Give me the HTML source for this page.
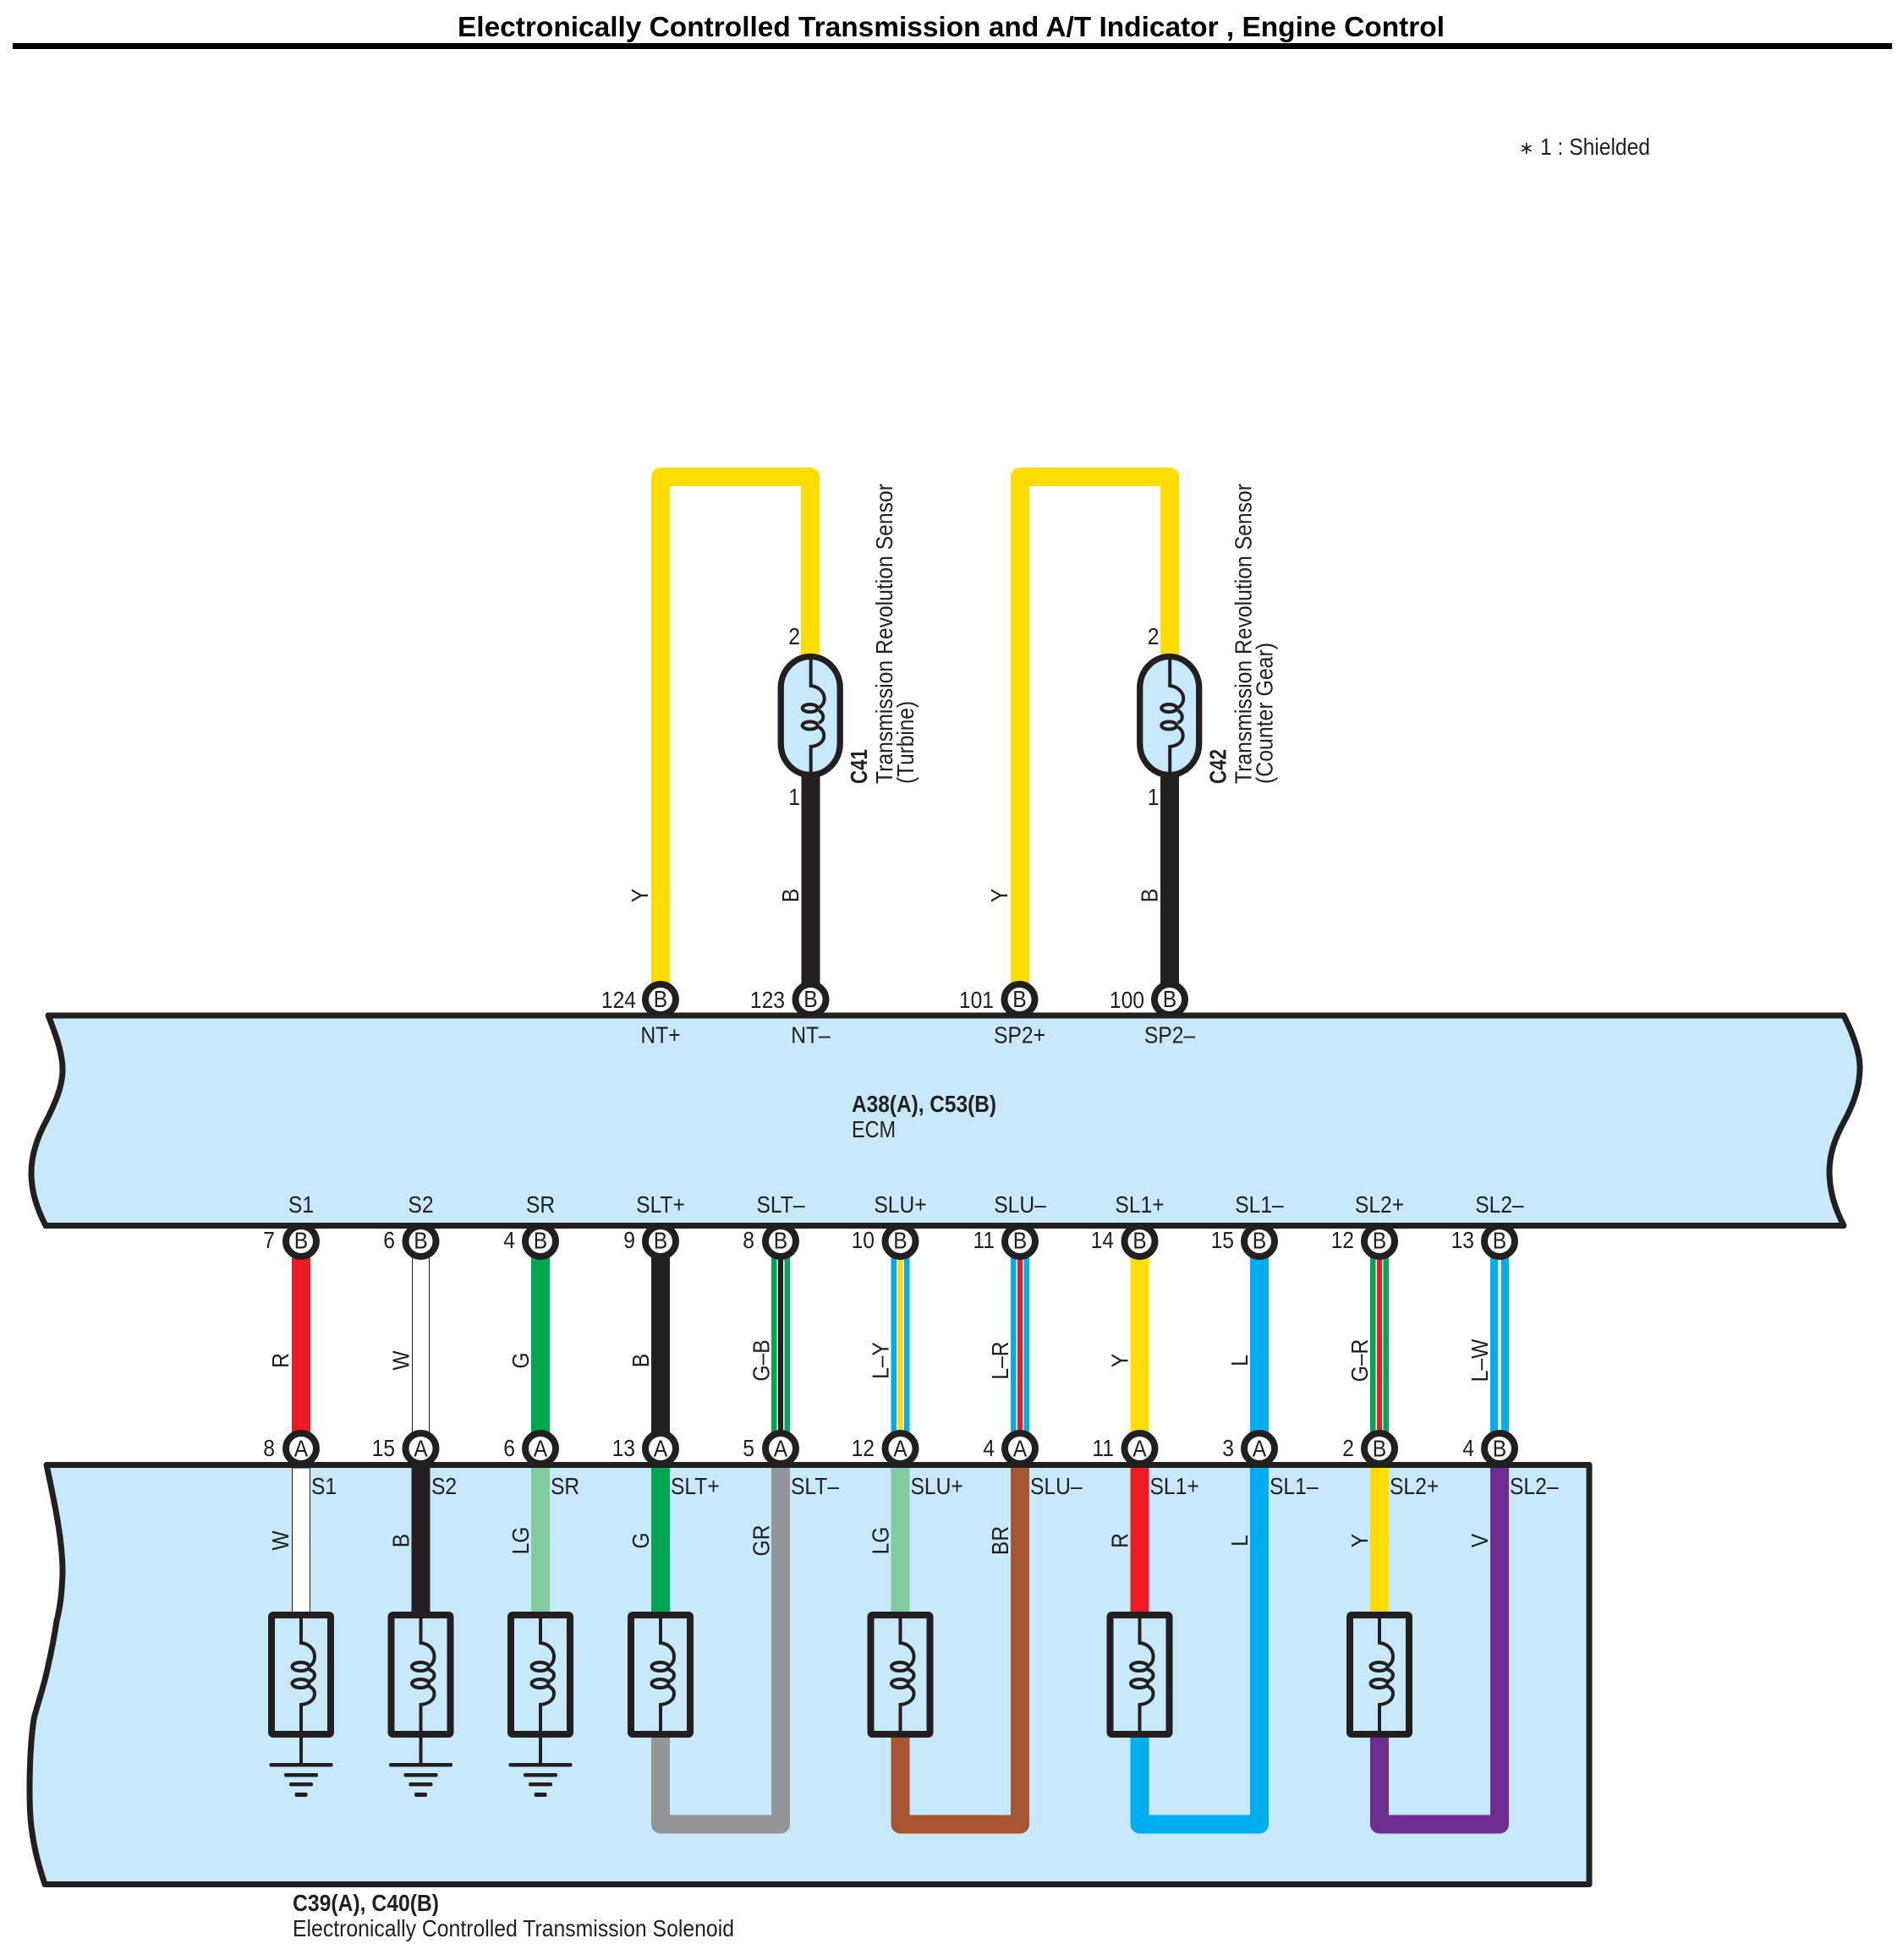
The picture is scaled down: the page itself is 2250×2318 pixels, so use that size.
<!DOCTYPE html>
<html lang="en">
<head>
<meta charset="utf-8">
<title>Electronically Controlled Transmission and A/T Indicator , Engine Control</title>
<style>
html,body{margin:0;padding:0;background:#fff;width:2250px;height:2318px;overflow:hidden}
svg{display:block}
text{font-family:"Liberation Sans",Arial,sans-serif;font-size:28px;fill:#231f20}
.m{text-anchor:middle}
.e{text-anchor:end}
.s{text-anchor:start}
.b{font-weight:bold}
</style>
</head>
<body>
<svg xmlns="http://www.w3.org/2000/svg" width="2250" height="2318" viewBox="0 0 2250 2318">
<defs>
<g id="sol">
<rect x="-35" y="1910" width="70" height="141" rx="2" fill="#c7e9fb" stroke="#231f20" stroke-width="8"/>
<path d="M0 1913V1943C10 1944 16 1951 16 1959C16 1965 13 1969 9 1971M9 1974C14 1976 16 1978 16 1981C16 1984 14 1987 9 1989M9 1994C14 1996 16 1999 16 2003C16 2010 10 2015 0 2016V2049" fill="none" stroke="#231f20" stroke-width="4"/>
<ellipse cx="-0.5" cy="1971" rx="10" ry="5" fill="none" stroke="#231f20" stroke-width="4"/>
<ellipse cx="-0.5" cy="1991" rx="10" ry="5" fill="none" stroke="#231f20" stroke-width="4"/>
</g>
<g id="gnd">
<path d="M0 2054V2087" stroke="#231f20" stroke-width="4" fill="none"/>
<rect x="-37.5" y="2085" width="75" height="4.5" rx="2" fill="#231f20"/>
<rect x="-20" y="2097" width="40" height="4.5" rx="2" fill="#231f20"/>
<rect x="-14" y="2108" width="28" height="4.5" rx="2" fill="#231f20"/>
<rect x="-7.5" y="2120" width="15" height="5" rx="2" fill="#231f20"/>
</g>
<g id="cap">
<rect x="-35" y="776.5" width="70" height="140" rx="35" ry="37" fill="#c7e9fb" stroke="#231f20" stroke-width="7.3"/>
<path d="M0.5 776V811C10 812 16.5 819 16.5 826C16.5 831 14 835 10 837M10 840C14 843 15 845 15 848C15 851 14 853 10 855M10 860C14 862 16 866 16 870C16 877 10 882 0.5 883V917" fill="none" stroke="#231f20" stroke-width="4"/>
<ellipse cx="-0.5" cy="837.5" rx="9" ry="4.5" fill="none" stroke="#231f20" stroke-width="4"/>
<ellipse cx="-0.5" cy="858" rx="9" ry="4.5" fill="none" stroke="#231f20" stroke-width="4"/>
</g>
<g id="pin">
<circle cx="0" cy="0" r="18" fill="#fff" stroke="#231f20" stroke-width="8"/>
</g>
</defs>

<!-- Title -->
<text class="b" x="541" y="43" style="font-size:33px;fill:#000" textLength="1167" lengthAdjust="spacingAndGlyphs">Electronically Controlled Transmission and A/T Indicator , Engine Control</text>
<rect x="15" y="51" width="2222" height="7" fill="#000"/>
<text x="1796" y="182" style="font-size:21px">∗</text>
<text x="1821" y="183" textLength="130" lengthAdjust="spacingAndGlyphs">1 : Shielded</text>

<!-- ECM -->
<path d="M57 1201C68 1228 74 1248 74 1265C74 1285 65 1305 55 1325C44 1345 37 1365 37 1387C37 1410 44 1430 54 1449.5H2180C2170 1430 2163 1410 2163 1385C2163 1365 2170 1345 2180 1327C2192 1305 2199 1285 2199 1262C2199 1245 2192 1225 2180 1201Z" fill="#c7e9fb" stroke="#231f20" stroke-width="7" stroke-linejoin="round"/>

<!-- Solenoid box -->
<path d="M55 1732.5C64 1775 74 1820 74 1860C73 1890 70 1905 67 1917C62 1950 58 1965 54 1983C49 2003 43 2020 40 2033C36 2060 35 2090 35 2117C35 2140 36 2155 38 2167C41 2190 47 2210 53 2228.5H1879V1732.5Z" fill="#c7e9fb" stroke="#231f20" stroke-width="7" stroke-linejoin="round"/>

<!-- Sensor loops -->
<path d="M781 1165V564H958V780" fill="none" stroke="#ffdd00" stroke-width="22" stroke-linejoin="round"/>
<path d="M958.5 915V1165" fill="none" stroke="#231f20" stroke-width="22"/>
<path d="M1206 1165V564H1383V780" fill="none" stroke="#ffdd00" stroke-width="22" stroke-linejoin="round"/>
<path d="M1383 915V1165" fill="none" stroke="#231f20" stroke-width="22"/>
<use href="#cap" x="958.2"/>
<use href="#cap" x="1382.7"/>

<!-- Middle wires -->
<rect x="345" y="1480" width="22" height="220" fill="#ed1c24"/>
<rect x="487.5" y="1480" width="20" height="220" fill="#fff" stroke="#231f20" stroke-width="1"/>
<rect x="628" y="1480" width="22" height="220" fill="#00a651"/>
<rect x="770" y="1480" width="22" height="220" fill="#231f20"/>
<rect x="912" y="1480" width="22" height="220" fill="#00a651"/><rect x="918.5" y="1480" width="9" height="220" fill="#fff"/><rect x="920" y="1480" width="6" height="220" fill="#231f20"/>
<rect x="1053.5" y="1480" width="22" height="220" fill="#00aeef"/><rect x="1060" y="1480" width="9" height="220" fill="#fff"/><rect x="1061.5" y="1480" width="6" height="220" fill="#ffdd00"/>
<rect x="1195" y="1480" width="22" height="220" fill="#00aeef"/><rect x="1201.5" y="1480" width="9" height="220" fill="#fff"/><rect x="1203" y="1480" width="6" height="220" fill="#ed1c24"/>
<rect x="1336.5" y="1480" width="22" height="220" fill="#ffdd00"/>
<rect x="1478" y="1480" width="22" height="220" rx="6" fill="#00aeef"/>
<rect x="1620" y="1480" width="22" height="220" fill="#00a651"/><rect x="1626.5" y="1480" width="9" height="220" fill="#fff"/><rect x="1628" y="1480" width="6" height="220" fill="#ed1c24"/>
<rect x="1762" y="1480" width="22" height="220" fill="#00aeef"/><rect x="1771" y="1480" width="4" height="220" fill="#fff"/>

<!-- Lower wires -->
<rect x="345.5" y="1736" width="21" height="172" fill="#fff" stroke="#231f20" stroke-width="1"/>
<rect x="486.5" y="1736" width="22" height="172" fill="#231f20"/>
<rect x="628" y="1736" width="22" height="172" fill="#82cba0"/>
<rect x="770" y="1736" width="22" height="172" fill="#00a651"/>
<rect x="1053.5" y="1736" width="22" height="172" fill="#82cba0"/>
<rect x="1336.5" y="1736" width="22" height="172" fill="#ed1c24"/>
<rect x="1620" y="1736" width="22" height="172" fill="#ffdd00"/>
<path d="M781 2050V2157.5H923V1736" fill="none" stroke="#939598" stroke-width="22" stroke-linejoin="round"/>
<path d="M1064.5 2050V2157.5H1206V1736" fill="none" stroke="#a65530" stroke-width="22" stroke-linejoin="round"/>
<path d="M1347.5 2050V2157.5H1489V1736" fill="none" stroke="#00aeef" stroke-width="22" stroke-linejoin="round"/>
<path d="M1631 2050V2157.5H1773V1736" fill="none" stroke="#6b2d90" stroke-width="22" stroke-linejoin="round"/>
<path d="M54 1732.5H1879M54 1449.5H2180" stroke="#231f20" stroke-width="7" fill="none"/>

<!-- Solenoids -->
<use href="#sol" x="356"/><use href="#sol" x="497.5"/><use href="#sol" x="639"/><use href="#sol" x="781"/><use href="#sol" x="1064.5"/><use href="#sol" x="1347.5"/><use href="#sol" x="1631"/>
<use href="#gnd" x="356"/><use href="#gnd" x="497.5"/><use href="#gnd" x="639"/>

<!-- Pins -->
<use href="#pin" x="781" y="1182"/><use href="#pin" x="958.5" y="1182"/><use href="#pin" x="1205.5" y="1182"/><use href="#pin" x="1383" y="1182"/>
<use href="#pin" x="356" y="1468"/><use href="#pin" x="497.5" y="1468"/><use href="#pin" x="639" y="1468"/><use href="#pin" x="781" y="1468"/><use href="#pin" x="923" y="1468"/><use href="#pin" x="1064.5" y="1468"/><use href="#pin" x="1206" y="1468"/><use href="#pin" x="1347.5" y="1468"/><use href="#pin" x="1489" y="1468"/><use href="#pin" x="1631" y="1468"/><use href="#pin" x="1773" y="1468"/>
<use href="#pin" x="356" y="1713"/><use href="#pin" x="497.5" y="1713"/><use href="#pin" x="639" y="1713"/><use href="#pin" x="781" y="1713"/><use href="#pin" x="923" y="1713"/><use href="#pin" x="1064.5" y="1713"/><use href="#pin" x="1206" y="1713"/><use href="#pin" x="1347.5" y="1713"/><use href="#pin" x="1489" y="1713"/><use href="#pin" x="1631" y="1713"/><use href="#pin" x="1773" y="1713"/>

<!-- Top pin letters and numbers -->
<text class="m" transform="matrix(.88 0 0 1 781 1191)">B</text>
<text class="m" transform="matrix(.88 0 0 1 958.5 1191)">B</text>
<text class="m" transform="matrix(.88 0 0 1 1205.5 1191)">B</text>
<text class="m" transform="matrix(.88 0 0 1 1383 1191)">B</text>
<text class="m" transform="matrix(.88 0 0 1 781 1233.5)">NT+</text>
<text class="m" transform="matrix(.88 0 0 1 958.5 1233.5)">NT–</text>
<text class="m" transform="matrix(.88 0 0 1 1205.5 1233.5)">SP2+</text>
<text class="m" transform="matrix(.88 0 0 1 1383 1233.5)">SP2–</text>
<text class="e" transform="matrix(.88 0 0 1 752 1192)">124</text>
<text class="e" transform="matrix(.88 0 0 1 928 1192)">123</text>
<text class="e" transform="matrix(.88 0 0 1 1175 1192)">101</text>
<text class="e" transform="matrix(.88 0 0 1 1353 1192)">100</text>
<text class="e" transform="matrix(.88 0 0 1 946 762)">2</text>
<text class="e" transform="matrix(.88 0 0 1 946 952)">1</text>
<text class="e" transform="matrix(.88 0 0 1 1370.5 762)">2</text>
<text class="e" transform="matrix(.88 0 0 1 1370.5 952)">1</text>

<!-- Sensor wire labels -->
<text class="m" transform="matrix(0 -.88 1 0 766 1059)">Y</text>
<text class="m" transform="matrix(0 -.88 1 0 944 1059)">B</text>
<text class="m" transform="matrix(0 -.88 1 0 1191 1059)">Y</text>
<text class="m" transform="matrix(0 -.88 1 0 1368.5 1059)">B</text>

<!-- Sensor names -->
<text class="b" transform="translate(1025 927) rotate(-90)" textLength="41" lengthAdjust="spacingAndGlyphs">C41</text>
<text transform="translate(1055 927) rotate(-90)" textLength="355" lengthAdjust="spacingAndGlyphs">Transmission Revolution Sensor</text>
<text transform="translate(1080 927) rotate(-90)" textLength="98" lengthAdjust="spacingAndGlyphs">(Turbine)</text>
<text class="b" transform="translate(1449.5 927) rotate(-90)" textLength="41" lengthAdjust="spacingAndGlyphs">C42</text>
<text transform="translate(1479.5 927) rotate(-90)" textLength="355" lengthAdjust="spacingAndGlyphs">Transmission Revolution Sensor</text>
<text transform="translate(1504.5 927) rotate(-90)" textLength="167" lengthAdjust="spacingAndGlyphs">(Counter Gear)</text>

<!-- ECM name -->
<text class="b" x="1007" y="1315" textLength="171" lengthAdjust="spacingAndGlyphs">A38(A), C53(B)</text>
<text x="1007" y="1345" textLength="52" lengthAdjust="spacingAndGlyphs">ECM</text>

<!-- ECM lower labels -->
<text class="m" transform="matrix(.88 0 0 1 356 1434)">S1</text>
<text class="m" transform="matrix(.88 0 0 1 497.5 1434)">S2</text>
<text class="m" transform="matrix(.88 0 0 1 639 1434)">SR</text>
<text class="m" transform="matrix(.88 0 0 1 781 1434)">SLT+</text>
<text class="m" transform="matrix(.88 0 0 1 923 1434)">SLT–</text>
<text class="m" transform="matrix(.88 0 0 1 1064.5 1434)">SLU+</text>
<text class="m" transform="matrix(.88 0 0 1 1206 1434)">SLU–</text>
<text class="m" transform="matrix(.88 0 0 1 1347.5 1434)">SL1+</text>
<text class="m" transform="matrix(.88 0 0 1 1489 1434)">SL1–</text>
<text class="m" transform="matrix(.88 0 0 1 1631 1434)">SL2+</text>
<text class="m" transform="matrix(.88 0 0 1 1773 1434)">SL2–</text>

<!-- Top row letters -->
<text class="m" transform="matrix(.88 0 0 1 356 1476.5)">B</text>
<text class="m" transform="matrix(.88 0 0 1 497.5 1476.5)">B</text>
<text class="m" transform="matrix(.88 0 0 1 639 1476.5)">B</text>
<text class="m" transform="matrix(.88 0 0 1 781 1476.5)">B</text>
<text class="m" transform="matrix(.88 0 0 1 923 1476.5)">B</text>
<text class="m" transform="matrix(.88 0 0 1 1064.5 1476.5)">B</text>
<text class="m" transform="matrix(.88 0 0 1 1206 1476.5)">B</text>
<text class="m" transform="matrix(.88 0 0 1 1347.5 1476.5)">B</text>
<text class="m" transform="matrix(.88 0 0 1 1489 1476.5)">B</text>
<text class="m" transform="matrix(.88 0 0 1 1631 1476.5)">B</text>
<text class="m" transform="matrix(.88 0 0 1 1773 1476.5)">B</text>

<!-- Top row numbers -->
<text class="e" transform="matrix(.88 0 0 1 325 1476)">7</text>
<text class="e" transform="matrix(.88 0 0 1 467 1476)">6</text>
<text class="e" transform="matrix(.88 0 0 1 609 1476)">4</text>
<text class="e" transform="matrix(.88 0 0 1 751 1476)">9</text>
<text class="e" transform="matrix(.88 0 0 1 892 1476)">8</text>
<text class="e" transform="matrix(.88 0 0 1 1034 1476)">10</text>
<text class="e" transform="matrix(.88 0 0 1 1176 1476)">11</text>
<text class="e" transform="matrix(.88 0 0 1 1317 1476)">14</text>
<text class="e" transform="matrix(.88 0 0 1 1459 1476)">15</text>
<text class="e" transform="matrix(.88 0 0 1 1601 1476)">12</text>
<text class="e" transform="matrix(.88 0 0 1 1743 1476)">13</text>

<!-- Bottom row letters -->
<text class="m" transform="matrix(.88 0 0 1 356 1722.5)">A</text>
<text class="m" transform="matrix(.88 0 0 1 497.5 1722.5)">A</text>
<text class="m" transform="matrix(.88 0 0 1 639 1722.5)">A</text>
<text class="m" transform="matrix(.88 0 0 1 781 1722.5)">A</text>
<text class="m" transform="matrix(.88 0 0 1 923 1722.5)">A</text>
<text class="m" transform="matrix(.88 0 0 1 1064.5 1722.5)">A</text>
<text class="m" transform="matrix(.88 0 0 1 1206 1722.5)">A</text>
<text class="m" transform="matrix(.88 0 0 1 1347.5 1722.5)">A</text>
<text class="m" transform="matrix(.88 0 0 1 1489 1722.5)">A</text>
<text class="m" transform="matrix(.88 0 0 1 1631 1722.5)">B</text>
<text class="m" transform="matrix(.88 0 0 1 1773 1722.5)">B</text>

<!-- Bottom row numbers -->
<text class="e" transform="matrix(.88 0 0 1 325 1722)">8</text>
<text class="e" transform="matrix(.88 0 0 1 467 1722)">15</text>
<text class="e" transform="matrix(.88 0 0 1 609 1722)">6</text>
<text class="e" transform="matrix(.88 0 0 1 751 1722)">13</text>
<text class="e" transform="matrix(.88 0 0 1 892 1722)">5</text>
<text class="e" transform="matrix(.88 0 0 1 1034 1722)">12</text>
<text class="e" transform="matrix(.88 0 0 1 1176 1722)">4</text>
<text class="e" transform="matrix(.88 0 0 1 1317 1722)">11</text>
<text class="e" transform="matrix(.88 0 0 1 1459 1722)">3</text>
<text class="e" transform="matrix(.88 0 0 1 1601 1722)">2</text>
<text class="e" transform="matrix(.88 0 0 1 1743 1722)">4</text>

<!-- Middle wire labels -->
<text class="m" transform="matrix(0 -.88 1 0 341 1609)">R</text>
<text class="m" transform="matrix(0 -.88 1 0 483.5 1609)">W</text>
<text class="m" transform="matrix(0 -.88 1 0 625 1609)">G</text>
<text class="m" transform="matrix(0 -.88 1 0 767 1609)">B</text>
<text class="m" transform="matrix(0 -.88 1 0 909.5 1609)">G–B</text>
<text class="m" transform="matrix(0 -.88 1 0 1050.5 1609)">L–Y</text>
<text class="m" transform="matrix(0 -.88 1 0 1192 1609)">L–R</text>
<text class="m" transform="matrix(0 -.88 1 0 1333.5 1609)">Y</text>
<text class="m" transform="matrix(0 -.88 1 0 1475 1609)">L</text>
<text class="m" transform="matrix(0 -.88 1 0 1617 1609)">G–R</text>
<text class="m" transform="matrix(0 -.88 1 0 1759 1609)">L–W</text>

<!-- Lower box terminal labels -->
<text transform="matrix(.88 0 0 1 368 1767)">S1</text>
<text transform="matrix(.88 0 0 1 510 1767)">S2</text>
<text transform="matrix(.88 0 0 1 651 1767)">SR</text>
<text transform="matrix(.88 0 0 1 793 1767)">SLT+</text>
<text transform="matrix(.88 0 0 1 935 1767)">SLT–</text>
<text transform="matrix(.88 0 0 1 1076.5 1767)">SLU+</text>
<text transform="matrix(.88 0 0 1 1218 1767)">SLU–</text>
<text transform="matrix(.88 0 0 1 1359.5 1767)">SL1+</text>
<text transform="matrix(.88 0 0 1 1501 1767)">SL1–</text>
<text transform="matrix(.88 0 0 1 1643 1767)">SL2+</text>
<text transform="matrix(.88 0 0 1 1785 1767)">SL2–</text>

<!-- Lower wire labels -->
<text class="m" transform="matrix(0 -.88 1 0 341 1822)">W</text>
<text class="m" transform="matrix(0 -.88 1 0 483.5 1822)">B</text>
<text class="m" transform="matrix(0 -.88 1 0 625 1822)">LG</text>
<text class="m" transform="matrix(0 -.88 1 0 767 1822)">G</text>
<text class="m" transform="matrix(0 -.88 1 0 909.5 1822)">GR</text>
<text class="m" transform="matrix(0 -.88 1 0 1050.5 1822)">LG</text>
<text class="m" transform="matrix(0 -.88 1 0 1192 1822)">BR</text>
<text class="m" transform="matrix(0 -.88 1 0 1333.5 1822)">R</text>
<text class="m" transform="matrix(0 -.88 1 0 1475 1822)">L</text>
<text class="m" transform="matrix(0 -.88 1 0 1617 1822)">Y</text>
<text class="m" transform="matrix(0 -.88 1 0 1759 1822)">V</text>

<!-- Solenoid name -->
<text class="b" x="346" y="2260" textLength="173" lengthAdjust="spacingAndGlyphs">C39(A), C40(B)</text>
<text x="346" y="2290" textLength="522" lengthAdjust="spacingAndGlyphs">Electronically Controlled Transmission Solenoid</text>
</svg>
</body>
</html>
